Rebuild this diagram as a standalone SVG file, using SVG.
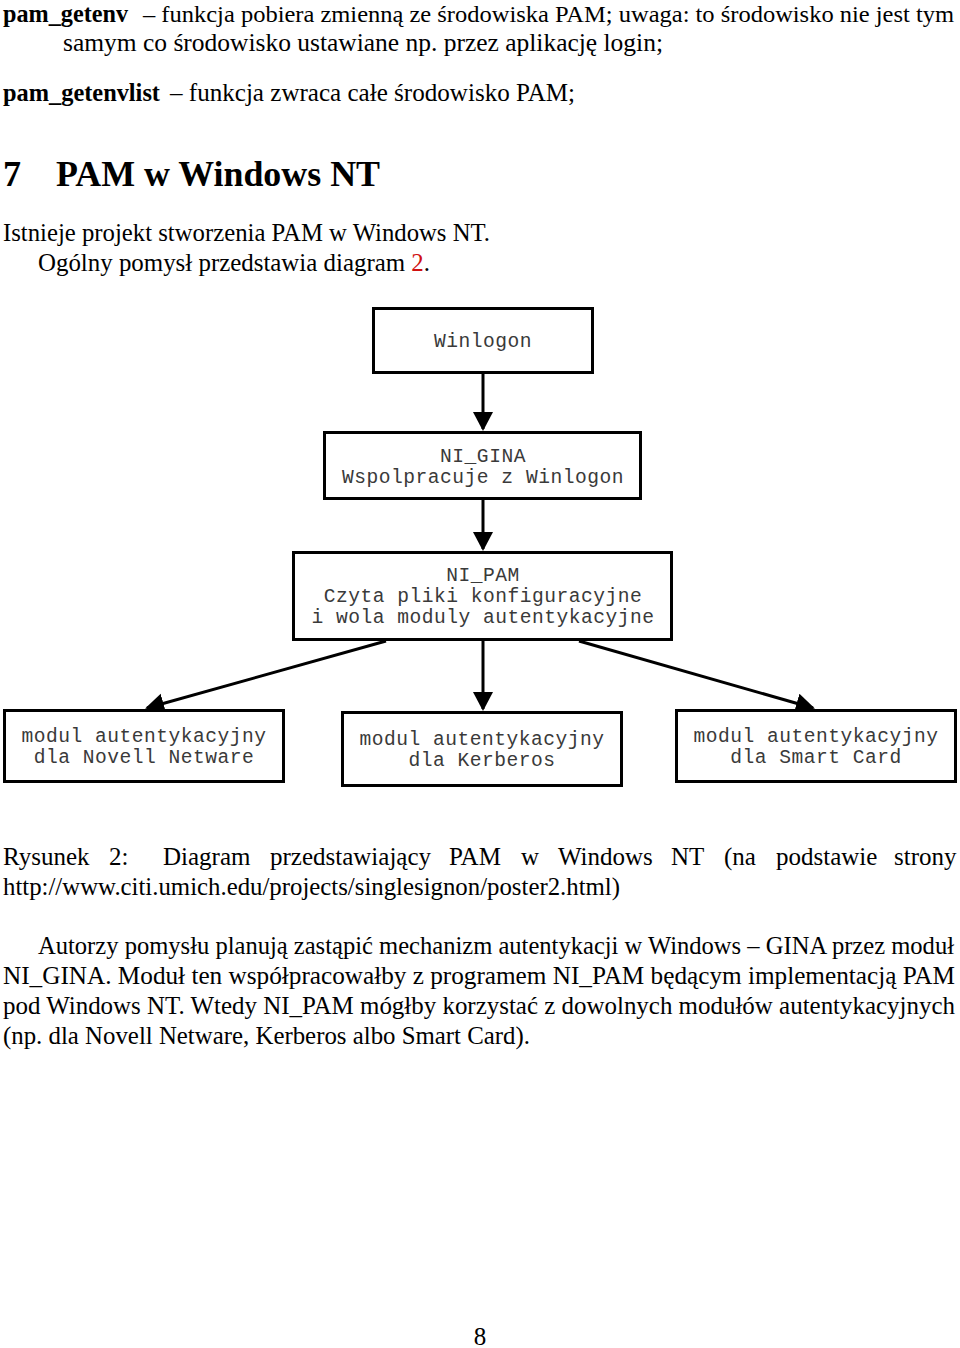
<svg xmlns="http://www.w3.org/2000/svg" width="960" height="1348" viewBox="0 0 960 1348">
<style>
.t{font-family:"Liberation Serif","Times New Roman",serif;font-size:25px;fill:#000}
.b{font-family:"Liberation Serif","Times New Roman",serif;font-size:25px;font-weight:bold;fill:#000}
.h{font-family:"Liberation Serif","Times New Roman",serif;font-size:36px;font-weight:bold;fill:#000}
.m{font-family:"Liberation Mono","Courier New",monospace;font-size:19.6px;letter-spacing:0.5px;fill:#3a3a3a;text-anchor:middle}
.box{fill:#fff;stroke:#000;stroke-width:3}
.c{stroke:#000;stroke-width:3;fill:none}
</style>
<defs>
<marker id="ah" markerUnits="userSpaceOnUse" markerWidth="20" markerHeight="22" refX="17" refY="10" orient="auto">
<path d="M0,0 L19,10 L0,20 z" fill="#000"/>
</marker>
</defs>
<rect width="960" height="1348" fill="#fff"/>

<text class="b" x="3" y="22" textLength="125" lengthAdjust="spacingAndGlyphs">pam_getenv</text>
<text class="t" x="143" y="22" textLength="811" lengthAdjust="spacingAndGlyphs" style="font-size:24px">– funkcja pobiera zmienną ze środowiska PAM; uwaga: to środowisko nie jest tym</text>
<text class="t" x="63" y="51" textLength="600" lengthAdjust="spacingAndGlyphs">samym co środowisko ustawiane np. przez aplikację login;</text>
<text class="b" x="3" y="101" textLength="157" lengthAdjust="spacingAndGlyphs">pam_getenvlist</text>
<text class="t" x="170" y="101" textLength="405" lengthAdjust="spacingAndGlyphs">– funkcja zwraca całe środowisko PAM;</text>

<text class="h" x="3" y="186">7</text>
<text class="h" x="56" y="186" textLength="324" lengthAdjust="spacingAndGlyphs">PAM w Windows NT</text>

<text class="t" x="3" y="241" textLength="487" lengthAdjust="spacingAndGlyphs">Istnieje projekt stworzenia PAM w Windows NT.</text>
<text class="t" x="38" y="271" textLength="392" lengthAdjust="spacingAndGlyphs">Ogólny pomysł przedstawia diagram <tspan fill="#d01010">2</tspan>.</text>

<g id="connectors">
<line class="c" x1="483" y1="374" x2="483" y2="429" marker-end="url(#ah)"/>
<line class="c" x1="483" y1="500" x2="483" y2="549" marker-end="url(#ah)"/>
<line class="c" x1="483" y1="641" x2="483" y2="709" marker-end="url(#ah)"/>
<line class="c" x1="386" y1="641" x2="147" y2="708" marker-end="url(#ah)"/>
<line class="c" x1="579" y1="641" x2="813" y2="708" marker-end="url(#ah)"/>
</g>

<g id="winlogon">
<rect class="box" x="373.5" y="308.5" width="219" height="64"/>
<text class="m" x="483" y="347">Winlogon</text>
</g>
<g id="ni_gina">
<rect class="box" x="324.5" y="432.5" width="316" height="66"/>
<text class="m" x="483" y="462">NI_GINA</text>
<text class="m" x="483" y="483">Wspolpracuje z Winlogon</text>
</g>
<g id="ni_pam">
<rect class="box" x="293.5" y="552.5" width="378" height="87"/>
<text class="m" x="483" y="581">NI_PAM</text>
<text class="m" x="483" y="602">Czyta pliki konfiguracyjne</text>
<text class="m" x="483" y="622.5">i wola moduly autentykacyjne</text>
</g>
<g id="novell">
<rect class="box" x="4.5" y="710.5" width="279" height="71"/>
<text class="m" x="144" y="742">modul autentykacyjny</text>
<text class="m" x="144" y="763">dla Novell Netware</text>
</g>
<g id="kerberos">
<rect class="box" x="342.5" y="712.5" width="279" height="73"/>
<text class="m" x="482" y="745">modul autentykacyjny</text>
<text class="m" x="482" y="766">dla Kerberos</text>
</g>
<g id="smartcard">
<rect class="box" x="676.5" y="710.5" width="279" height="71"/>
<text class="m" x="816" y="742">modul autentykacyjny</text>
<text class="m" x="816" y="763">dla Smart Card</text>
</g>

<text class="t" y="865"><tspan x="3">Rysunek</tspan><tspan x="109">2:</tspan><tspan x="163">Diagram</tspan><tspan x="270">przedstawiający</tspan><tspan x="449">PAM</tspan><tspan x="521">w</tspan><tspan x="558">Windows</tspan><tspan x="671">NT</tspan><tspan x="724">(na</tspan><tspan x="776">podstawie</tspan><tspan x="894">strony</tspan></text>
<text class="t" x="3" y="895" textLength="617" lengthAdjust="spacingAndGlyphs">http://www.citi.umich.edu/projects/singlesignon/poster2.html)</text>

<text class="t" x="38" y="954" textLength="916" lengthAdjust="spacingAndGlyphs" style="font-size:24.5px">Autorzy pomysłu planują zastąpić mechanizm autentykacji w Windows – GINA przez moduł</text>
<text class="t" x="3" y="984" textLength="952" lengthAdjust="spacingAndGlyphs">NI_GINA. Moduł ten współpracowałby z programem NI_PAM będącym implementacją PAM</text>
<text class="t" x="3" y="1014" textLength="952" lengthAdjust="spacingAndGlyphs">pod Windows NT. Wtedy NI_PAM mógłby korzystać z dowolnych modułów autentykacyjnych</text>
<text class="t" x="3" y="1044" textLength="527" lengthAdjust="spacingAndGlyphs">(np. dla Novell Netware, Kerberos albo Smart Card).</text>

<text class="t" x="480" y="1345" text-anchor="middle">8</text>
</svg>
